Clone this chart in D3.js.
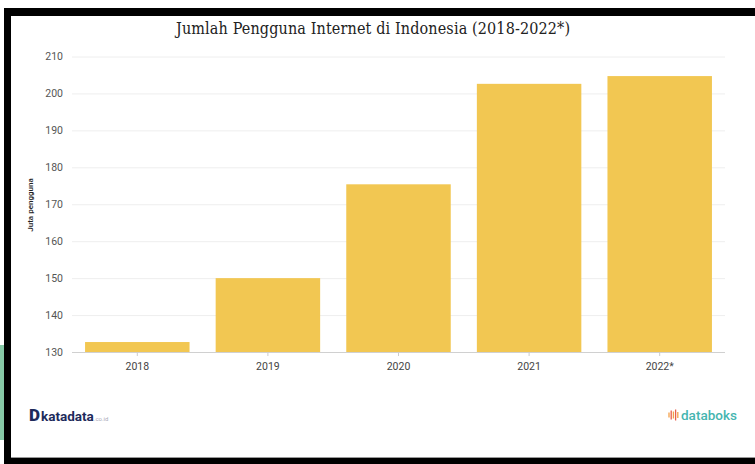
<!DOCTYPE html>
<html>
<head>
<meta charset="utf-8">
<script src="https://cdn.jsdelivr.net/npm/d3@7"></script>
<style>
  body { margin: 0; background: #fff; }
  svg { display: block; }
</style>
</head>
<body>
<script>
//chart data
var years = ["2018", "2019", "2020", "2021", "2022*"];
var users = [132.7, 150, 175.4, 202.6, 204.7]; //juta pengguna
var yTicks = [130, 140, 150, 160, 170, 180, 190, 200, 210];

var width = 755, height = 464;

var svg = d3.select("body")
    .append("svg")
    .attr("width", width)
    .attr("height", height);

//screenshot frame: green strip, black border
svg.append("rect").attr("x", 0).attr("y", 345).attr("width", 5).attr("height", 95).attr("fill", "#86c9a6");
svg.append("rect").attr("x", 4).attr("y", 8).attr("width", 751).attr("height", 8).attr("fill", "#000");
svg.append("rect").attr("x", 4).attr("y", 8).attr("width", 7).attr("height", 456).attr("fill", "#000");
svg.append("rect").attr("x", 4).attr("y", 458).attr("width", 751).attr("height", 6).attr("fill", "#000");
svg.append("line").attr("x1", 11).attr("x2", 755).attr("y1", 457.5).attr("y2", 457.5).attr("stroke", "#999");

//scales
var x = d3.scaleBand()
    .domain(years)
    .range([72, 725])
    .paddingInner(0.2)
    .paddingOuter(0.1);

var y = d3.scaleLinear()
    .domain([130, 210])
    .range([352, 56.5]);

//gridlines
svg.append("g")
    .selectAll("line")
    .data(yTicks)
    .enter()
    .append("line")
    .attr("x1", 72)
    .attr("x2", 725)
    .attr("y1", function(d){ return y(d) + 0.5; })
    .attr("y2", function(d){ return y(d) + 0.5; })
    .attr("stroke", function(d){ return d == 130 ? "#d0d0d0" : "#eeeeee"; })
    .attr("stroke-width", 1);

//bars
svg.append("g")
    .selectAll("rect")
    .data(years)
    .enter()
    .append("rect")
    .attr("x", function(d){ return x(d); })
    .attr("width", x.bandwidth())
    .attr("y", function(d, i){ return y(users[i]); })
    .attr("height", function(d, i){ return y(130) - y(users[i]); })
    .attr("fill", "#f2c752");

//y axis
var yAxis = svg.append("g")
    .attr("transform", "translate(63,0)")
    .call(d3.axisLeft(y).tickValues(yTicks).tickSize(0).tickPadding(0));
yAxis.select(".domain").remove();
yAxis.selectAll("text")
    .attr("fill", "#555")
    .style("font-family", "Roboto, sans-serif")
    .style("font-size", "10.5px");

//x axis
var xAxis = svg.append("g")
    .attr("transform", "translate(0,352)")
    .call(d3.axisBottom(x).tickSize(4).tickPadding(7));
xAxis.select(".domain").remove();
xAxis.selectAll("line").attr("stroke", "#ccc");
xAxis.selectAll("text")
    .attr("fill", "#444")
    .style("font-family", "Roboto, sans-serif")
    .style("font-size", "10.5px");

//y axis label
svg.append("text")
    .attr("transform", "translate(33,205) rotate(-90)")
    .attr("text-anchor", "middle")
    .style("font-family", "Roboto, sans-serif")
    .style("font-size", "8px")
    .style("font-weight", "500")
    .attr("fill", "#222")
    .text("Juta pengguna");

//title
svg.append("text")
    .attr("x", 373)
    .attr("y", 34)
    .attr("text-anchor", "middle")
    .attr("textLength", 394)
    .style("font-family", "'DejaVu Serif Condensed', 'Liberation Serif', serif")
    .style("font-size", "16px")
    .attr("fill", "#222")
    .text("Jumlah Pengguna Internet di Indonesia (2018-2022*)");

//katadata logo
var kd = svg.append("text")
    .attr("x", 29)
    .attr("y", 421)
    .style("font-family", "Roboto, sans-serif")
    .attr("fill", "#1d2a5b");
kd.append("tspan").style("font-size", "17px").style("font-weight", "900").text("D");
kd.append("tspan").style("font-size", "13.5px").style("font-weight", "bold").attr("dx", 1).text("katadata");
kd.append("tspan").style("font-size", "6px").attr("fill", "#aab").text(".co.id");

//databoks logo
var icon = [5, 9, 7, 11, 6];
svg.append("g")
    .selectAll("line")
    .data(icon)
    .enter()
    .append("line")
    .attr("x1", function(d, i){ return 669 + i * 2.2; })
    .attr("x2", function(d, i){ return 669 + i * 2.2; })
    .attr("y1", function(d){ return 415 - d / 2; })
    .attr("y2", function(d){ return 415 + d / 2; })
    .attr("stroke", function(d, i){ return i % 2 ? "#e8604c" : "#f4a14a"; })
    .attr("stroke-width", 1.3);
svg.append("text")
    .attr("x", 681)
    .attr("y", 420)
    .style("font-family", "Roboto, sans-serif")
    .style("font-size", "13.5px")
    .style("font-weight", "500")
    .attr("fill", "#45b5b0")
    .text("databoks");
</script>
</body>
</html>
